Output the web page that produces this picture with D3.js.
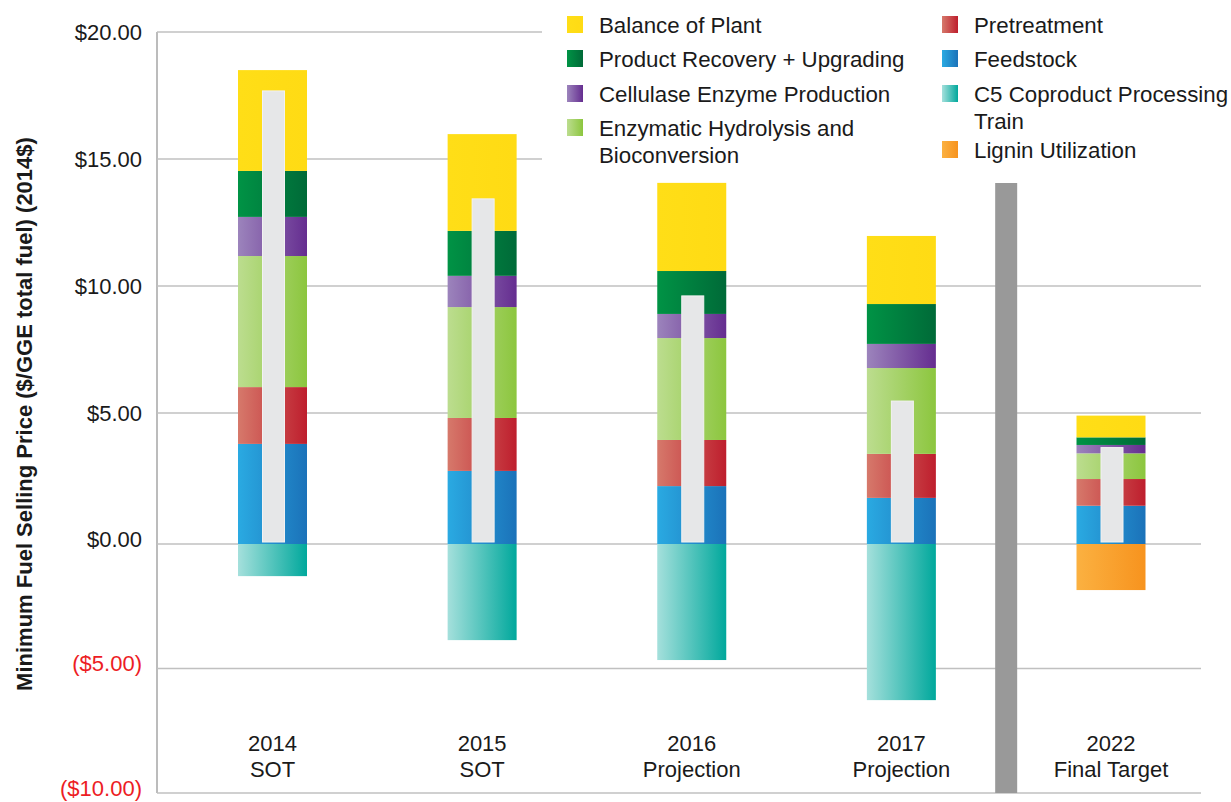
<!DOCTYPE html>
<html>
<head>
<meta charset="utf-8">
<script src="https://cdn.jsdelivr.net/npm/d3@7"></script>
<style>
  body { margin: 0; background: #fff; }
  svg { display: block; font-family: Arial, "Liberation Sans", sans-serif; }
</style>
</head>
<body>
<div id="chart"></div>
<script>
// categories (two-line labels)
var years = ["2014", "2015", "2016", "2017", "2022"];
var subLabels = ["SOT", "SOT", "Projection", "Projection", "Final Target"];

// positive cost components, stacked bottom to top ($/GGE)
var feedstock    = [3.82, 2.79, 2.21, 1.76, 1.46];
var pretreatment = [2.20, 2.02, 1.76, 1.68, 1.02];
var enzymatic    = [5.16, 4.36, 3.98, 3.33, 0.98];
var cellulase    = [1.54, 1.23, 0.95, 0.95, 0.32];
var recovery     = [1.81, 1.77, 1.69, 1.57, 0.29];
var balance      = [3.97, 3.81, 3.47, 2.68, 0.83];

// credits (negative)
var c5Train = [-1.29, -3.86, -4.66, -6.27, 0];
var lignin  = [0, 0, 0, 0, -1.85];

// net MFSP
var netPrice = [17.68, 13.43, 9.61, 5.47, 3.68];

var yTicks = [20, 15, 10, 5, 0, -5, -10];

var stackSeries = [
    { name: "Feedstock", values: feedstock, c0: "#2aaae2", c1: "#1b72b9" },
    { name: "Pretreatment", values: pretreatment, c0: "#d6796b", c1: "#be1e2d" },
    { name: "Enzymatic Hydrolysis and Bioconversion", values: enzymatic, c0: "#bcdd8f", c1: "#8cc63e" },
    { name: "Cellulase Enzyme Production", values: cellulase, c0: "#9c84bc", c1: "#652d90" },
    { name: "Product Recovery + Upgrading", values: recovery, c0: "#009345", c1: "#006a38" },
    { name: "Balance of Plant", values: balance, c0: "#ffde17", c1: "#ffdb14" }
];
var negSeries = [
    { name: "C5 Coproduct Processing Train", values: c5Train, c0: "#a5e0dc", c1: "#00a89c" },
    { name: "Lignin Utilization", values: lignin, c0: "#fbb141", c1: "#f7931e" }
];

var W = 1231, H = 802;
var svg = d3.select("#chart").append("svg").attr("width", W).attr("height", H);

var defs = svg.append("defs");
stackSeries.concat(negSeries).forEach(function (s, i) {
    var g = defs.append("linearGradient").attr("id", "grad" + i)
        .attr("x1", 0).attr("x2", 1).attr("y1", 0).attr("y2", 0);
    g.append("stop").attr("offset", "0%").attr("stop-color", s.c0);
    g.append("stop").attr("offset", "100%").attr("stop-color", s.c1);
    s.fill = "url(#grad" + i + ")";
});

// scales (gridlines in the original are not evenly spaced around zero)
var y = d3.scaleLinear().domain([-10, 0, 5, 20]).range([793, 544, 413, 32]);
var x = d3.scalePoint().domain(years).range([272.5, 1111]);
var barW = 69, netW = 22;

// left axis line
svg.append("line")
    .attr("x1", 157).attr("x2", 157)
    .attr("y1", y(20)).attr("y2", y(-10))
    .attr("stroke", "#a6a6a6").attr("stroke-width", 1.5);

// grid
svg.append("g").selectAll("line").data(yTicks).enter().append("line")
    .attr("x1", 157).attr("x2", 1201)
    .attr("y1", d => y(d)).attr("y2", d => y(d))
    .attr("stroke", "#c0c0c0").attr("stroke-width", 1.5);

// tick labels (the labels at and below zero sit a little above their lines)
var fmt = function (d) {
    var s = "$" + d3.format(".2f")(Math.abs(d));
    return d < 0 ? "(" + s + ")" : s;
};
svg.append("g").selectAll("text").data(yTicks).enter().append("text")
    .attr("x", 142).attr("y", d => y(d) - (d <= 0 ? 5 : 0)).attr("dy", "0.35em")
    .attr("text-anchor", "end")
    .attr("font-size", 22)
    .attr("fill", d => d < 0 ? "#ed1c24" : "#1a1a1a")
    .text(fmt);

// y title
svg.append("text")
    .attr("transform", "translate(32,414) rotate(-90)")
    .attr("text-anchor", "middle")
    .attr("font-size", 22).attr("font-weight", "bold")
    .attr("fill", "#1a1a1a")
    .text("Minimum Fuel Selling Price ($/GGE total fuel) (2014$)");

// separator between projections and final target
var sepX = (x("2017") + x("2022")) / 2;
svg.append("rect")
    .attr("x", sepX - 11).attr("width", 22)
    .attr("y", 183).attr("height", y(-10) - 183)
    .attr("fill", "#999999");

// positive stacks
var stacked = d3.stack().keys(d3.range(stackSeries.length))
    .value((d, k) => stackSeries[k].values[d])(d3.range(years.length));

stacked.forEach(function (layer, k) {
    svg.append("g").selectAll("rect").data(layer).enter().append("rect")
        .attr("x", (d, i) => x(years[i]) - barW / 2)
        .attr("width", barW)
        .attr("y", d => y(d[1]))
        .attr("height", d => y(d[0]) - y(d[1]))
        .attr("fill", stackSeries[k].fill);
});

// negative credits
negSeries.forEach(function (s) {
    svg.append("g").selectAll("rect").data(s.values).enter().append("rect")
        .filter(d => d < 0)
        .attr("x", (d, i) => x(years[s.values.indexOf(d)]) - barW / 2)
        .attr("width", barW)
        .attr("y", y(0))
        .attr("height", d => y(d) - y(0))
        .attr("fill", s.fill);
});

// net price bars
svg.append("g").selectAll("rect").data(netPrice).enter().append("rect")
    .attr("x", (d, i) => x(years[i]) - netW / 2 + 1)
    .attr("width", netW)
    .attr("y", d => y(d))
    .attr("height", d => y(0) - 2 - y(d))
    .attr("fill", "#e6e7e8")
    .attr("stroke", "#f2f2f2").attr("stroke-width", 1);

// category labels
var cat = svg.append("g").selectAll("text").data(years).enter().append("text")
    .attr("x", d => x(d)).attr("text-anchor", "middle")
    .attr("font-size", 22).attr("fill", "#1a1a1a");
cat.append("tspan").attr("x", d => x(d)).attr("y", 751).text(d => d);
cat.append("tspan").attr("x", d => x(d)).attr("y", 777).text((d, i) => subLabels[i]);

// legend
svg.append("rect").attr("x", 542).attr("y", 0).attr("width", W - 542).attr("height", 172).attr("fill", "#fff");

var legendItems = [
    { s: stackSeries[5], lines: ["Balance of Plant"], col: 0, cy: 25 },
    { s: stackSeries[4], lines: ["Product Recovery + Upgrading"], col: 0, cy: 59 },
    { s: stackSeries[3], lines: ["Cellulase Enzyme Production"], col: 0, cy: 94 },
    { s: stackSeries[2], lines: ["Enzymatic Hydrolysis and", "Bioconversion"], col: 0, cy: 128 },
    { s: stackSeries[1], lines: ["Pretreatment"], col: 1, cy: 25 },
    { s: stackSeries[0], lines: ["Feedstock"], col: 1, cy: 59 },
    { s: negSeries[0], lines: ["C5 Coproduct Processing", "Train"], col: 1, cy: 94 },
    { s: negSeries[1], lines: ["Lignin Utilization"], col: 1, cy: 150 }
];
var colX = [567, 942];

var leg = svg.append("g").selectAll("g").data(legendItems).enter().append("g");
leg.append("rect")
    .attr("x", d => colX[d.col]).attr("y", d => d.cy - 9)
    .attr("width", 16).attr("height", 17)
    .attr("fill", d => d.s.fill);
leg.each(function (d) {
    var t = d3.select(this).append("text")
        .attr("font-size", 22.3).attr("fill", "#1a1a1a");
    d.lines.forEach(function (ln, j) {
        t.append("tspan")
            .attr("x", colX[d.col] + 32)
            .attr("y", d.cy + 8 + j * 27)
            .text(ln);
    });
});
</script>
</body>
</html>
